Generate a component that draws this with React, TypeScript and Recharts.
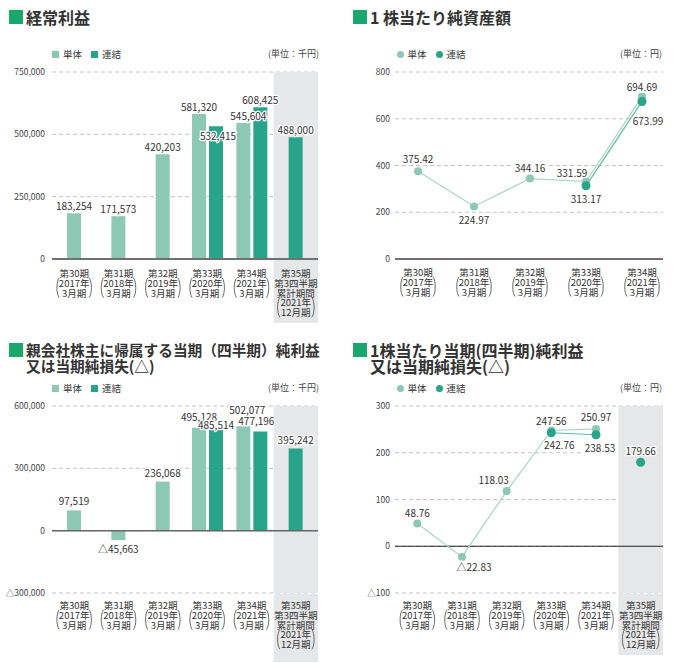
import {
  Bar,
  CartesianGrid,
  Cell,
  ComposedChart,
  LabelList,
  Line,
  LineChart,
  ReferenceArea,
  ReferenceLine,
  XAxis,
  YAxis,
} from "recharts";

const FONT = "'Noto Sans CJK JP', 'Noto Sans', sans-serif";
const TAN_COLOR = "#8dc8b4";
const REN_COLOR = "#28a48a";
const TAN_LINE = "#a6d4c4";
const REN_LINE = "#62bba4";
const TITLE_GREEN = "#1ba86c";
const SHADE = "#e6e7e8";
const GRID = "#c4c4c4";
const TEXT = "#333";

const periods = ["第30期", "第31期", "第32期", "第33期", "第34期", "第35期"];
const periodYears = ["2017年", "2018年", "2019年", "2020年", "2021年", "2021年"];
const periodMonths = ["3月期", "3月期", "3月期", "3月期", "3月期", "12月期"];
const quarterPeriod = "第35期";
const quarterLines = ["第3四半期", "累計期間"];

// 経常利益 (千円)
const ordinaryTan = [183254, 171573, 420203, 581320, 545604, null];
const ordinaryRen = [null, null, null, 532415, 608425, 488000];
const ordinaryTicks = [0, 250000, 500000, 750000];

// 1株当たり純資産額 (円)
const bpsPeriods = ["第30期", "第31期", "第32期", "第33期", "第34期"];
const bpsTan = [375.42, 224.97, 344.16, 331.59, 694.69];
const bpsRen = [null, null, null, 313.17, 673.99];
const bpsTicks = [0, 200, 400, 600, 800];

// 親会社株主に帰属する当期純利益 (千円)
const profitTan = [97519, -45663, 236068, 495128, 502077, null];
const profitRen = [null, null, null, 485514, 477196, 395242];
const profitTicks = [-300000, 0, 300000, 600000];

// 1株当たり当期純利益 (円)
const epsTan = [48.76, -22.83, 118.03, 247.56, 250.97, null];
const epsRen = [null, null, null, 242.76, 238.53, 179.66];
const epsTicks = [-100, 0, 100, 200, 300];

type Num = number | null;

const buildBarRows = (tan: Num[], ren: Num[]) =>
  periods.map((period, i) => {
    const both = tan[i] != null && ren[i] != null;
    return {
      period,
      tan: both ? tan[i] : null,
      ren: both ? ren[i] : null,
      single: both ? null : tan[i] ?? ren[i],
      singleKind: tan[i] != null ? "tan" : "ren",
    };
  });

const ordinaryRows = buildBarRows(ordinaryTan, ordinaryRen);
const profitRows = buildBarRows(profitTan, profitRen);

const bpsRows = bpsPeriods.map((period, i) => ({
  period,
  tan: bpsTan[i],
  ren: bpsRen[i],
}));

const epsRows = periods.map((period, i) => ({
  period,
  tan: epsTan[i],
  ren: period === quarterPeriod ? null : epsRen[i],
  renQuarter: period === quarterPeriod ? epsRen[i] : null,
}));

const formatSigned = (v: number, digits?: number) => {
  const abs = Math.abs(v);
  const s = digits == null ? abs.toLocaleString("en-US") : abs.toFixed(digits);
  return v < 0 ? `△${s}` : s;
};

type Shift = { dx?: number; dy?: number; below?: boolean };

// label nudges, looked up by the labelled value (recharts drops null bars, so indexes shift)
const valueLabel =
  (values: Num[], byIndex: Record<number, Shift>, digits?: number, baseDy = -8) => {
    const shifts = new Map<number, Shift>();
    Object.entries(byIndex).forEach(([k, s]) => {
      const v = values[Number(k)];
      if (v != null) shifts.set(v, s);
    });
    return (props: any) => {
      const value = props.value;
      if (value == null || Number.isNaN(Number(value))) return null;
      const vb = props.viewBox ?? {};
      const x = Number(vb.x ?? props.x);
      const y = Number(vb.y ?? props.y);
      const w = Number(vb.width ?? props.width ?? 0) || 0;
      const h = Number(vb.height ?? props.height ?? 0) || 0;
      const s = shifts.get(Number(value)) ?? {};
      const below = s.below ?? value < 0;
      const top = Math.min(y, y + h);
      const bottom = Math.max(y, y + h);
      const cy = below ? bottom + (s.dy ?? 9) : top + (s.dy ?? baseDy);
      return (
        <text
          x={x + w / 2 + (s.dx ?? 0)}
          y={cy}
          textAnchor="middle"
          dominantBaseline="central"
          fontSize={10}
          fontFamily={FONT}
          fill={TEXT}
          stroke="#fff"
          strokeWidth={2.5}
          paintOrder="stroke"
        >
          {formatSigned(Number(value), digits)}
        </text>
      );
    };
  };

const periodTick =
  (opts: { firstDy: number; shadeWidth?: number; shadeHeight?: number }) =>
  (props: any) => {
    const { x, y, payload } = props;
    const i = periods.indexOf(payload.value);
    const quarter = payload.value === quarterPeriod;
    const plain = quarter ? [payload.value, ...quarterLines] : [payload.value];
    const bracketed = [periodYears[i], periodMonths[i]];
    const lh = 9.8;
    const top = y + opts.firstDy;
    const bTop = top + plain.length * lh;
    const half = quarter ? 18.5 : 17.5;
    const p1 = bTop - 5;
    const p2 = bTop + lh + 5;
    const common = {
      textAnchor: "middle" as const,
      dominantBaseline: "central" as const,
      fontSize: 9.5,
      fontFamily: FONT,
      fill: TEXT,
    };
    return (
      <g>
        {quarter && opts.shadeWidth ? (
          <rect
            x={x - opts.shadeWidth / 2}
            y={y + 1}
            width={opts.shadeWidth}
            height={opts.shadeHeight}
            fill={SHADE}
          />
        ) : null}
        {plain.map((t, k) => (
          <text key={`p${k}`} x={x} y={top + k * lh} {...common}>
            {t}
          </text>
        ))}
        {bracketed.map((t, k) => (
          <text key={`b${k}`} x={x} y={bTop + k * lh} {...common}>
            {t}
          </text>
        ))}
        <path
          d={`M${x - half + 2.5},${p1} C${x - half - 0.5},${p1 + 4} ${x - half - 0.5},${p2 - 4} ${x - half + 2.5},${p2}`}
          fill="none"
          stroke="#444"
          strokeWidth={0.8}
        />
        <path
          d={`M${x + half - 2.5},${p1} C${x + half + 0.5},${p1 + 4} ${x + half + 0.5},${p2 - 4} ${x + half - 2.5},${p2}`}
          fill="none"
          stroke="#444"
          strokeWidth={0.8}
        />
      </g>
    );
  };

const Title = ({
  x,
  y,
  lines,
  fontSize,
}: {
  x: number;
  y: number;
  lines: string[];
  fontSize: number;
}) => (
  <div style={{ position: "absolute", left: x, top: y }}>
    <div
      style={{
        position: "absolute",
        left: 0,
        top: 0,
        width: 14,
        height: 14,
        background: TITLE_GREEN,
      }}
    />
    {lines.map((line, k) => (
      <div
        key={line}
        style={{
          position: "absolute",
          left: 17,
          top: -1 + k * 16,
          whiteSpace: "nowrap",
          fontSize,
          lineHeight: "16px",
          fontWeight: 700,
          color: TEXT,
        }}
      >
        {line}
      </div>
    ))}
  </div>
);

const Legend = ({ x, y, round }: { x: number; y: number; round?: boolean }) => (
  <>
    {[
      { name: "単体", color: TAN_COLOR },
      { name: "連結", color: REN_COLOR },
    ].map((item, k) => (
      <div key={item.name}>
        <div
          style={{
            position: "absolute",
            left: x + k * 39,
            top: y - 3.5,
            width: 7,
            height: 7,
            borderRadius: round ? "50%" : 0,
            background: item.color,
          }}
        />
        <div
          style={{
            position: "absolute",
            left: x + k * 39 + 11,
            top: y - 7,
            fontSize: 9.5,
            lineHeight: "14px",
            color: TEXT,
          }}
        >
          {item.name}
        </div>
      </div>
    ))}
  </>
);

const Unit = ({ right, y, text }: { right: number; y: number; text: string }) => (
  <div
    style={{
      position: "absolute",
      right: 685 - right,
      top: y - 7,
      fontSize: 9,
      lineHeight: "14px",
      color: "#444",
      whiteSpace: "nowrap",
    }}
  >
    {text}
  </div>
);

const yTick = { fontSize: 8.5, fill: "#444", fontFamily: FONT };

export default function App() {
  return (
    <div
      style={{
        position: "relative",
        width: 685,
        height: 663,
        background: "#fff",
        overflow: "hidden",
        fontFamily: FONT,
      }}
    >
      <style>{"body{margin:0}"}</style>

      {/* 経常利益 */}
      <Title x={9} y={10} lines={["経常利益"]} fontSize={16} />
      <Legend x={52} y={54} />
      <Unit right={319} y={54} text="(単位：千円)" />
      <div style={{ position: "absolute", left: 0, top: 60 }}>
        <ComposedChart
          width={340}
          height={270}
          data={ordinaryRows}
          margin={{ top: 12, right: 22, bottom: 5, left: 0 }}
          barGap={3}
        >
          <XAxis
            dataKey="period"
            height={66}
            interval={0}
            tickLine={false}
            tickSize={0}
            tickMargin={0}
            axisLine={{ stroke: "#707070", strokeWidth: 2 }}
            tick={periodTick({ firstDy: 14, shadeWidth: 266 / 6, shadeHeight: 63 })}
          />
          <XAxis xAxisId="single" dataKey="period" hide />
          <XAxis xAxisId="pairLabel" dataKey="period" hide />
          <XAxis xAxisId="singleLabel" dataKey="period" hide />
          <YAxis
            width={52}
            domain={[0, 750000]}
            ticks={ordinaryTicks}
            tickFormatter={(v: number) => v.toLocaleString("en-US")}
            axisLine={false}
            tickLine={false}
            tickSize={5}
            tickMargin={2}
            tick={yTick}
          />
          <ReferenceArea x1={quarterPeriod} x2={quarterPeriod} fill={SHADE} fillOpacity={1} stroke="none" />
          <CartesianGrid vertical={false} stroke={GRID} strokeDasharray="4 3" />
          <Bar dataKey="single" xAxisId="single" barSize={14} isAnimationActive={false}>
            {ordinaryRows.map((row) => (
              <Cell key={row.period} fill={row.singleKind === "tan" ? TAN_COLOR : REN_COLOR} />
            ))}
          </Bar>
          <Bar dataKey="tan" fill={TAN_COLOR} barSize={14} isAnimationActive={false} />
          <Bar dataKey="ren" fill={REN_COLOR} barSize={14} isAnimationActive={false} />
          {/* transparent copies that carry the labels above every bar */}
          <Bar dataKey="single" xAxisId="singleLabel" fill="none" barSize={14} isAnimationActive={false}>
            <LabelList dataKey="single" content={valueLabel(ordinaryRows.map((r) => r.single), {})} />
          </Bar>
          <Bar dataKey="tan" xAxisId="pairLabel" fill="none" barSize={14} isAnimationActive={false}>
            <LabelList dataKey="tan" content={valueLabel(ordinaryTan, { 4: { dx: 5, dy: -7 } })} />
          </Bar>
          <Bar dataKey="ren" xAxisId="pairLabel" fill="none" barSize={14} isAnimationActive={false}>
            <LabelList dataKey="ren" content={valueLabel(ordinaryRen, { 3: { dx: 2, dy: 9 } })} />
          </Bar>
        </ComposedChart>
      </div>

      {/* 1株当たり純資産額 */}
      <Title x={353} y={10} lines={["1 株当たり純資産額"]} fontSize={16} />
      <Legend x={396.5} y={54} round />
      <Unit right={662} y={54} text="(単位：円)" />
      <div style={{ position: "absolute", left: 340, top: 60 }}>
        <LineChart
          width={345}
          height={270}
          data={bpsRows}
          margin={{ top: 12, right: 22, bottom: 5, left: 0 }}
        >
          <XAxis
            dataKey="period"
            scale="point"
            padding={{ left: 23, right: 21 }}
            height={66}
            interval={0}
            tickLine={false}
            tickSize={0}
            tickMargin={0}
            axisLine={{ stroke: "#707070", strokeWidth: 2 }}
            tick={periodTick({ firstDy: 13 })}
          />
          <YAxis
            width={55}
            domain={[0, 800]}
            ticks={bpsTicks}
            axisLine={false}
            tickLine={false}
            tickSize={3}
            tickMargin={2}
            tick={yTick}
          />
          <CartesianGrid vertical={false} stroke={GRID} strokeDasharray="4 3" />
          <Line
            dataKey="tan"
            stroke={TAN_LINE}
            strokeWidth={1.2}
            dot={{ r: 4, fill: TAN_COLOR, stroke: TAN_COLOR, strokeWidth: 0 }}
            activeDot={false}
            isAnimationActive={false}
          >
            <LabelList
              dataKey="tan"
              content={valueLabel(
                bpsTan,
                { 0: { dy: -13 }, 1: { below: true, dy: 13 }, 2: { dy: -11 }, 3: { dx: -14, dy: -9 }, 4: { dy: -10 } },
                2,
              )}
            />
          </Line>
          <Line
            dataKey="ren"
            stroke={REN_LINE}
            strokeWidth={1.2}
            dot={{ r: 4.5, fill: REN_COLOR, stroke: REN_COLOR, strokeWidth: 0 }}
            activeDot={false}
            isAnimationActive={false}
          >
            <LabelList
              dataKey="ren"
              content={valueLabel(bpsRen, { 3: { below: true, dy: 13 }, 4: { below: true, dx: 6, dy: 19 } }, 2)}
            />
          </Line>
        </LineChart>
      </div>

      {/* 親会社株主に帰属する当期純利益 */}
      <Title
        x={9}
        y={343}
        lines={["親会社株主に帰属する当期（四半期）純利益", "又は当期純損失(△)"]}
        fontSize={14.7}
      />
      <Legend x={52} y={388} />
      <Unit right={319} y={388} text="(単位：千円)" />
      <div style={{ position: "absolute", left: 0, top: 394 }}>
        <ComposedChart
          width={340}
          height={269}
          data={profitRows}
          margin={{ top: 12, right: 22, bottom: 0, left: 0 }}
          barGap={3}
        >
          <XAxis
            dataKey="period"
            height={70}
            interval={0}
            tickLine={false}
            tickSize={0}
            tickMargin={0}
            axisLine={false}
            tick={periodTick({ firstDy: 12, shadeWidth: 266 / 6, shadeHeight: 68 })}
          />
          <XAxis xAxisId="single" dataKey="period" hide />
          <XAxis xAxisId="pairLabel" dataKey="period" hide />
          <XAxis xAxisId="singleLabel" dataKey="period" hide />
          <YAxis
            width={52}
            domain={[-300000, 600000]}
            ticks={profitTicks}
            tickFormatter={(v: number) => formatSigned(v)}
            axisLine={false}
            tickLine={false}
            tickSize={5}
            tickMargin={2}
            tick={yTick}
          />
          <ReferenceArea x1={quarterPeriod} x2={quarterPeriod} fill={SHADE} fillOpacity={1} stroke="none" />
          <CartesianGrid vertical={false} stroke={GRID} strokeDasharray="4 3" />
          <ReferenceLine y={0} stroke="#666" strokeWidth={1.5} />
          <Bar dataKey="single" xAxisId="single" barSize={14} isAnimationActive={false}>
            {profitRows.map((row) => (
              <Cell key={row.period} fill={row.singleKind === "tan" ? TAN_COLOR : REN_COLOR} />
            ))}
          </Bar>
          <Bar dataKey="tan" fill={TAN_COLOR} barSize={14} isAnimationActive={false} />
          <Bar dataKey="ren" fill={REN_COLOR} barSize={14} isAnimationActive={false} />
          <Bar dataKey="single" xAxisId="singleLabel" fill="none" barSize={14} isAnimationActive={false}>
            <LabelList
              dataKey="single"
              content={valueLabel(profitRows.map((r) => r.single), { 0: { dy: -10 }, 1: { below: true, dy: 8 } }, undefined, -9)}
            />
          </Bar>
          <Bar dataKey="tan" xAxisId="pairLabel" fill="none" barSize={14} isAnimationActive={false}>
            <LabelList dataKey="tan" content={valueLabel(profitTan, { 3: { dy: -11 }, 4: { dx: 4, dy: -17 } })} />
          </Bar>
          <Bar dataKey="ren" xAxisId="pairLabel" fill="none" barSize={14} isAnimationActive={false}>
            <LabelList dataKey="ren" content={valueLabel(profitRen, { 3: { dy: -5 }, 4: { dx: -4, dy: -11 } })} />
          </Bar>
        </ComposedChart>
      </div>

      {/* 1株当たり当期純利益 */}
      <Title
        x={353}
        y={343}
        lines={["1株当たり当期(四半期)純利益", "又は当期純損失(△)"]}
        fontSize={16}
      />
      <Legend x={396.5} y={388} round />
      <Unit right={662} y={388} text="(単位：円)" />
      <div style={{ position: "absolute", left: 340, top: 394 }}>
        <ComposedChart
          width={345}
          height={269}
          data={epsRows}
          margin={{ top: 12, right: 22, bottom: 0, left: 0 }}
        >
          <XAxis
            dataKey="period"
            scale="band"
            height={70}
            interval={0}
            tickLine={false}
            tickSize={0}
            tickMargin={0}
            axisLine={false}
            tick={periodTick({ firstDy: 12, shadeWidth: 268 / 6, shadeHeight: 61 })}
          />
          <YAxis
            width={55}
            domain={[-100, 300]}
            ticks={epsTicks}
            tickFormatter={(v: number) => formatSigned(v)}
            axisLine={false}
            tickLine={false}
            tickSize={3}
            tickMargin={2}
            tick={yTick}
          />
          <ReferenceArea x1={quarterPeriod} x2={quarterPeriod} fill={SHADE} fillOpacity={1} stroke="none" />
          <CartesianGrid vertical={false} stroke={GRID} strokeDasharray="4 3" />
          <ReferenceLine y={0} stroke="#222" strokeWidth={1.2} />
          <Line
            dataKey="tan"
            stroke={TAN_LINE}
            strokeWidth={1.2}
            dot={{ r: 4, fill: TAN_COLOR, stroke: TAN_COLOR, strokeWidth: 0 }}
            activeDot={false}
            isAnimationActive={false}
          >
            <LabelList
              dataKey="tan"
              content={valueLabel(
                epsTan,
                { 0: { dy: -11 }, 1: { below: true, dx: 12, dy: 10 }, 2: { dx: -13, dy: -12 }, 3: { dy: -10 }, 4: { dy: -12 } },
                2,
              )}
            />
          </Line>
          <Line
            dataKey="ren"
            stroke={REN_LINE}
            strokeWidth={1.2}
            dot={{ r: 4.5, fill: REN_COLOR, stroke: REN_COLOR, strokeWidth: 0 }}
            activeDot={false}
            isAnimationActive={false}
          >
            <LabelList
              dataKey="ren"
              content={valueLabel(epsRen, { 3: { below: true, dx: 8, dy: 12 }, 4: { below: true, dx: 4, dy: 13 } }, 2)}
            />
          </Line>
          <Line
            dataKey="renQuarter"
            stroke="none"
            dot={{ r: 4.5, fill: REN_COLOR, stroke: REN_COLOR, strokeWidth: 0 }}
            activeDot={false}
            isAnimationActive={false}
          >
            <LabelList dataKey="renQuarter" content={valueLabel(epsRen, { 5: { dy: -12 } }, 2)} />
          </Line>
        </ComposedChart>
      </div>
    </div>
  );
}
